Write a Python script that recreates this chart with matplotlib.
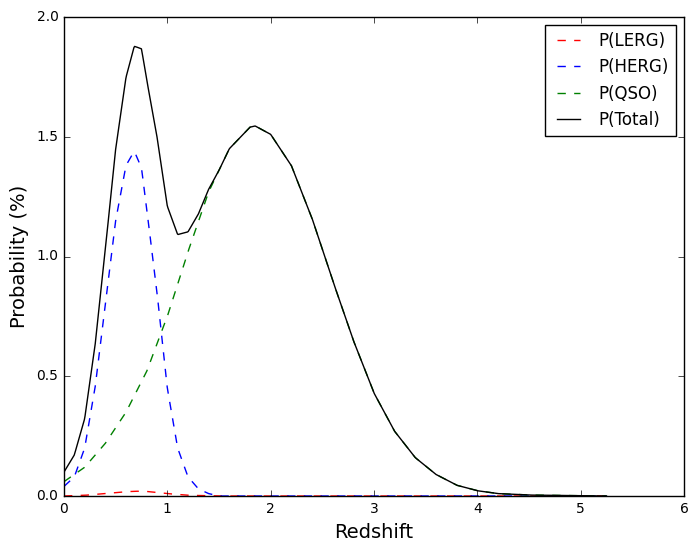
import numpy as np
import matplotlib
matplotlib.use('Agg')
import matplotlib.pyplot as plt
plt.style.use('classic')

z_herg = [0,0.1,0.2,0.3,0.4,0.5,0.6,0.68,0.75,0.8,0.9,1.0,1.1,1.2,1.3,1.4,1.5,2,3,4,5,5.25]
p_herg = [0.04,0.08,0.2,0.45,0.8,1.15,1.38,1.44,1.37,1.2,0.85,0.45,0.2,0.08,0.03,0.01,0,0,0,0,0,0]
z_qso = [0,0.2,0.4,0.6,0.8,1.0,1.2,1.4,1.6,1.8,1.85,2.0,2.2,2.4,2.6,2.8,3.0,3.2,3.4,3.6,3.8,4.0,4.2,4.5,5.0,5.25]
p_qso = [0.06,0.12,0.22,0.35,0.52,0.75,1.02,1.27,1.45,1.54,1.545,1.51,1.38,1.16,0.9,0.65,0.43,0.27,0.16,0.09,0.045,0.022,0.01,0.004,0.001,0.0]
z_lerg = [0,0.2,0.4,0.6,0.7,0.8,1.0,1.2,1.5,2,3,4,5,5.25]
p_lerg = [0.0,0.003,0.01,0.018,0.02,0.019,0.01,0.003,0,0,0,0,0,0]

z = np.linspace(0, 5.25, 800)
herg = np.interp(z, z_herg, p_herg)
qso = np.interp(z, z_qso, p_qso)
lerg = np.interp(z, z_lerg, p_lerg)
total = herg + qso + lerg

fig = plt.figure(figsize=(6.98,5.52), dpi=100, facecolor='white')
ax = fig.add_axes([64/698, 1-496/552, 620/698, 479/552])
ax.plot(z, lerg, 'r--', label='P(LERG)')
ax.plot(z, herg, 'b--', label='P(HERG)')
ax.plot(z, qso, 'g--', label='P(QSO)')
ax.plot(z, total, 'k-', label='P(Total)')
ax.set_xlim(0,6); ax.set_ylim(0,2)
ax.set_xticks(range(7)); ax.set_yticks([0,0.5,1.0,1.5,2.0])
ax.tick_params(labelsize=10)
ax.set_xlabel('Redshift', fontsize=14)
ax.set_ylabel('Probability (%)', fontsize=14)
ax.legend(loc='upper right', fontsize=12)
fig.savefig('out.png', dpi=100, facecolor='white')
